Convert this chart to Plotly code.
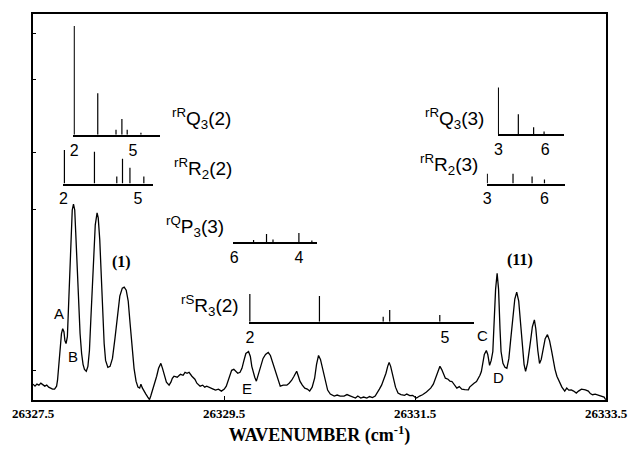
import plotly.graph_objects as go

# ---------------- main spectrum ----------------
wavenumber = [
    26327.500, 26327.521, 26327.541, 26327.562, 26327.582, 26327.603, 26327.623, 26327.644,
    26327.664, 26327.685, 26327.705, 26327.726, 26327.747, 26327.757, 26327.767, 26327.777,
    26327.788, 26327.798, 26327.811, 26327.824, 26327.834, 26327.846, 26327.860, 26327.870,
    26327.880, 26327.890, 26327.901, 26327.911, 26327.924, 26327.937, 26327.947, 26327.962,
    26327.978, 26327.993, 26328.009, 26328.024, 26328.039, 26328.058, 26328.075, 26328.091,
    26328.106, 26328.122, 26328.137, 26328.152, 26328.171, 26328.183, 26328.199, 26328.214,
    26328.229, 26328.245, 26328.260, 26328.284, 26328.307, 26328.332, 26328.358, 26328.384,
    26328.409, 26328.435, 26328.455, 26328.476, 26328.497, 26328.517, 26328.538, 26328.558,
    26328.579, 26328.599, 26328.617, 26328.630, 26328.646, 26328.661, 26328.682, 26328.702,
    26328.720, 26328.733, 26328.753, 26328.774, 26328.795, 26328.815, 26328.839, 26328.856,
    26328.877, 26328.897, 26328.925, 26328.944, 26328.959, 26328.976, 26329.010, 26329.044,
    26329.072, 26329.092, 26329.113, 26329.134, 26329.164, 26329.195, 26329.216, 26329.250,
    26329.277, 26329.298, 26329.319, 26329.349, 26329.387, 26329.411, 26329.442, 26329.473,
    26329.503, 26329.524, 26329.558, 26329.580, 26329.603, 26329.622, 26329.644, 26329.668,
    26329.688, 26329.709, 26329.729, 26329.757, 26329.776, 26329.791, 26329.804, 26329.822,
    26329.839, 26329.858, 26329.884, 26329.909, 26329.935, 26329.963, 26329.986, 26330.012,
    26330.038, 26330.063, 26330.089, 26330.120, 26330.158, 26330.182, 26330.209, 26330.233,
    26330.261, 26330.279, 26330.295, 26330.320, 26330.346, 26330.372, 26330.397, 26330.423,
    26330.449, 26330.469, 26330.490, 26330.510, 26330.531, 26330.551, 26330.585, 26330.613,
    26330.654, 26330.685, 26330.716, 26330.757, 26330.788, 26330.826, 26330.849, 26330.877,
    26330.901, 26330.932, 26330.962, 26330.996, 26331.024, 26331.055, 26331.083, 26331.106,
    26331.127, 26331.150, 26331.173, 26331.196, 26331.214, 26331.229, 26331.245, 26331.260,
    26331.271, 26331.296, 26331.322, 26331.353, 26331.391, 26331.414, 26331.445, 26331.476,
    26331.497, 26331.517, 26331.548, 26331.579, 26331.620, 26331.664, 26331.692, 26331.715,
    26331.738, 26331.761, 26331.779, 26331.800, 26331.818, 26331.846, 26331.866, 26331.887,
    26331.913, 26331.938, 26331.964, 26331.990, 26332.021, 26332.059, 26332.072, 26332.092,
    26332.118, 26332.144, 26332.164, 26332.180, 26332.195, 26332.211, 26332.226, 26332.247,
    26332.262, 26332.281, 26332.298, 26332.315, 26332.329, 26332.344, 26332.360, 26332.375,
    26332.390, 26332.401, 26332.421, 26332.442, 26332.462, 26332.483, 26332.503, 26332.524,
    26332.545, 26332.565, 26332.586, 26332.606, 26332.627, 26332.642, 26332.658, 26332.678,
    26332.709, 26332.729, 26332.750, 26332.765, 26332.786, 26332.804, 26332.822, 26332.842,
    26332.863, 26332.887, 26332.909, 26332.930, 26332.948, 26332.966, 26332.986, 26333.017,
    26333.038, 26333.068, 26333.089, 26333.110, 26333.137, 26333.161, 26333.189, 26333.212,
    26333.243, 26333.284, 26333.315, 26333.336, 26333.359, 26333.387, 26333.418, 26333.462,
    26333.480, 26333.497,
]
intensity = [
    16, 14, 16, 15, 17, 15, 14, 15,
    13, 12, 11, 11, 14, 20, 30, 42,
    57, 67, 72, 69, 60, 57, 64, 87,
    117, 147, 174, 192, 198, 192, 170, 132,
    97, 67, 47, 36, 31, 29, 34, 50,
    82, 119, 152, 177, 189, 184, 162, 127,
    87, 57, 40, 33, 34, 42, 62, 87,
    105, 113, 114, 111, 100, 77, 52, 32,
    19, 13, 12, 16, 12, 9, 6, 3,
    0.5, 4, 10, 16, 24, 32, 37, 32,
    24, 18, 15, 18, 22, 24, 23, 26,
    25, 28, 27, 28, 24, 21, 17, 14,
    15, 13, 14, 13, 11, 10, 11, 9,
    11, 14, 24, 30, 31, 29, 27, 28,
    32, 40, 47, 49, 44, 34, 29, 23,
    19, 25, 35, 42, 46, 48, 45, 37,
    29, 20, 14, 15, 15, 17, 20, 24,
    29, 24, 19, 15, 12, 11, 9, 13,
    22, 36, 45, 41, 32, 22, 10, 6,
    4, 5, 4, 4, 5.5, 4, 3, 2,
    4, 2, 3, 2, 3.5, 2.5, 4, 7,
    11, 15, 21, 27, 34, 38, 34, 27,
    22, 13, 7, 5.5, 4.7, 6, 4.5, 4.7,
    3, 2, 4, 5.3, 8, 12, 16, 22,
    29, 34, 31, 26, 22, 21, 19, 18.7,
    15, 12, 13.5, 11, 10.5, 10.3, 13, 15,
    17, 18.7, 22, 25, 28.7, 37, 46, 50,
    46, 35, 40, 49, 77, 112, 128, 112,
    72, 49, 37, 33, 32, 42, 62, 84,
    102, 109, 100, 77, 52, 36, 29, 37,
    59, 74, 81, 72, 50, 37, 41, 52,
    62, 66, 60, 50, 39, 31, 24, 17,
    13, 9, 12, 10, 10.3, 9, 7, 9,
    11, 10.3, 9, 6.5, 5.3, 6, 5, 3.7,
    3, 0.3,
]

x_ticks = [26327.5, 26329.5, 26331.5, 26333.5]
x_tick_labels = ["26327.5", "26329.5", "26331.5", "26333.5"]
y_tick_marks = [30, 192, 250, 324, 370]

peak_labels = ["A", "B", "C", "D", "E"]
peak_label_x = [26327.777, 26327.921, 26332.206, 26332.373, 26329.740]
peak_label_y = [87, 44, 65, 23, 12]

group_labels = ["(1)", "(11)"]
group_label_x = [26328.425, 26332.596]
group_label_y = [139, 141]

# ---------------- stick spectra (J values and relative intensities) ----------------
rRQ3_2_J = [2.0, 3.2, 4.13, 4.43, 4.7, 5.4]
rRQ3_2_I = [110, 42, 5, 16, 5, 2]
rRR2_2_J = [2.04, 3.25, 4.15, 4.38, 4.68, 5.24]
rRR2_2_I = [34, 32, 7, 25, 16, 7]
rQP3_3_J = [5.4, 5.0, 4.8, 4.0, 3.6]
rQP3_3_I = [2, 8, 2.5, 9, 1.5]
rSR3_2_J = [2.0, 3.07, 4.05, 4.15, 4.92]
rSR3_2_I = [28, 26, 5, 12, 7]
rRQ3_3_J = [3.0, 4.28, 5.26, 5.93]
rRQ3_3_I = [47, 20, 7, 2.5]
rRR2_3_J = [3.0, 4.35, 5.35, 6.0]
rRR2_3_I = [10, 10, 7, 4]

# ---------------- layout geometry ----------------
W, H = 640, 454
L, R, T, B = 33, 617, 12, 402


def pxx(px):
    return (px - L) / (R - L)


def pxy(py):
    return (B - py) / (B - T)


# label, J, I, x range, ref value, ref px, px/unit, baseline py, ymax, tickvals, label left px, label py
insets = [
    ("<sup>rR</sup>Q<sub>3</sub>(2)", rRQ3_2_J, rRQ3_2_I, [1.96, 6.35], 2, 75, 20.0, 134, 112, [2, 5], 173, 118),
    ("<sup>rR</sup>R<sub>2</sub>(2)", rRR2_2_J, rRR2_2_I, [1.98, 5.62], 2, 64, 25.3, 183.3, 36, [2, 5], 175, 168),
    ("<sup>rQ</sup>P<sub>3</sub>(3)", rQP3_3_J, rQP3_3_I, [6.03, 3.45], 6, 238, -33.0, 242.3, 11, [6, 4], 167, 227),
    ("<sup>rS</sup>R<sub>3</sub>(2)", rSR3_2_J, rSR3_2_I, [1.985, 5.44], 2, 254, 66.3, 323, 30, [2, 5], 182, 307),
    ("<sup>rR</sup>Q<sub>3</sub>(3)", rRQ3_3_J, rRQ3_3_I, [2.96, 7.19], 3, 507.3, 15.9, 133.3, 49, [3, 6], 430, 118),
    ("<sup>rR</sup>R<sub>2</sub>(3)", rRR2_3_J, rRR2_3_I, [2.97, 7.07], 3, 496, 19.43, 183.3, 12, [3, 6], 425, 164),
]

SANS = "Liberation Sans"
SERIF = "Liberation Serif"

fig = go.Figure()
fig.add_trace(go.Scatter(x=wavenumber, y=intensity, mode="lines",
                         line=dict(color="black", width=1.3), hoverinfo="skip",
                         showlegend=False))

annotations = []
for lab, x, y in zip(peak_labels, peak_label_x, peak_label_y):
    annotations.append(dict(x=x, y=y, xref="x", yref="y", text=lab, showarrow=False,
                            font=dict(family=SANS, size=15, color="black")))
for lab, x, y in zip(group_labels, group_label_x, group_label_y):
    annotations.append(dict(x=x, y=y, xref="x", yref="y", text=lab, showarrow=False,
                            font=dict(family=SERIF, size=16, color="black", weight="bold")))

layout_axes = {}
for i, (label, J, I, xr, v0, p0, k, base, ymax, tv, lx, ly) in enumerate(insets):
    n = i + 2
    xs, ys = [], []
    for j, h in zip(J, I):
        xs += [j, j, None]
        ys += [0, h, None]
    fig.add_trace(go.Scatter(x=xs, y=ys, mode="lines", xaxis=f"x{n}", yaxis=f"y{n}",
                             line=dict(color="black", width=1.2), hoverinfo="skip",
                             showlegend=False))
    pa = p0 + (xr[0] - v0) * k
    pb = p0 + (xr[1] - v0) * k
    layout_axes[f"xaxis{n}"] = dict(domain=[pxx(min(pa, pb)), pxx(max(pa, pb))], range=xr,
                                    anchor=f"y{n}", showline=True, linecolor="black", linewidth=1.5,
                                    showgrid=False, zeroline=False, ticks="", tickvals=tv,
                                    ticktext=[str(t) for t in tv],
                                    tickfont=dict(family=SANS, size=16, color="black"))
    layout_axes[f"yaxis{n}"] = dict(domain=[pxy(base), pxy(base - ymax)], range=[0, ymax],
                                    anchor=f"x{n}", visible=False)
    annotations.append(dict(x=pxx(lx), y=pxy(ly), xref="paper", yref="paper", text=label,
                            showarrow=False, xanchor="left", yanchor="middle",
                            font=dict(family=SANS, size=19, color="black")))

fig.update_layout(
    width=W, height=H, autosize=False,
    margin=dict(l=L, r=W - R, t=T, b=H - B),
    paper_bgcolor="white", plot_bgcolor="rgba(0,0,0,0)",
    showlegend=False,
    xaxis=dict(domain=[0, 1], range=[26327.5, 26333.5], tickvals=x_ticks, ticktext=x_tick_labels,
               ticks="inside", ticklen=4, tickcolor="black", ticklabeloverflow="allow",
               showline=True, mirror=True, linecolor="black", linewidth=1.8,
               showgrid=False, zeroline=False,
               tickfont=dict(family=SERIF, size=13, color="black", weight="bold"),
               title=dict(text="WAVENUMBER (cm<sup>-1</sup>)", standoff=9,
                          font=dict(family=SERIF, size=18, color="black", weight="bold"))),
    yaxis=dict(domain=[0, 1], range=[0, 390], tickvals=y_tick_marks, showticklabels=False,
               ticks="inside", ticklen=3, tickcolor="black",
               showline=True, mirror=True, linecolor="black", linewidth=1.8,
               showgrid=False, zeroline=False),
    annotations=annotations,
    **layout_axes,
)

fig.write_html("out.html", config={"displayModeBar": False},
               post_script="document.body.style.margin='0';document.body.style.overflow='hidden';")
